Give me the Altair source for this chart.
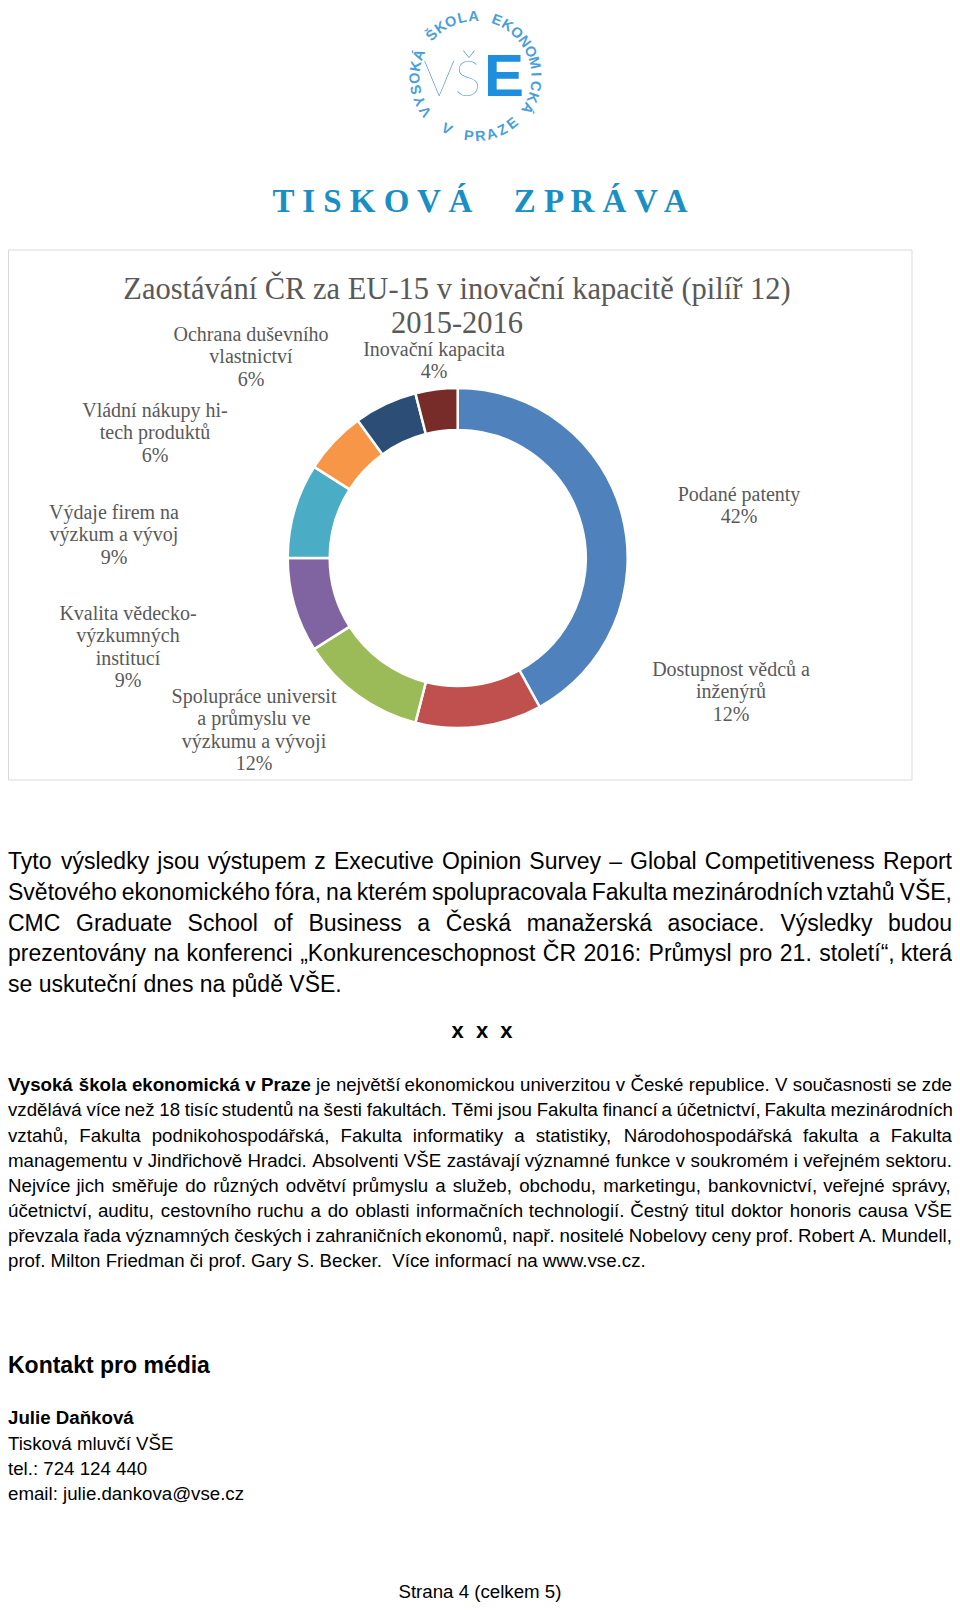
import math
import altair as alt
import pandas as pd

# ---------------- page geometry (chart px = page px - 8) ----------------
W, H = 944, 1594
OFF = 8
NB = "\u00A0"


def px(v):
    return v - OFF


def py(v):
    return v - OFF


# ---------------- chart data ----------------
categories = [
    "Podané patenty",
    "Dostupnost vědců a inženýrů",
    "Spolupráce universit a průmyslu ve výzkumu a vývoji",
    "Kvalita vědecko-výzkumných institucí",
    "Výdaje firem na výzkum a vývoj",
    "Vládní nákupy hi-tech produktů",
    "Ochrana duševního vlastnictví",
    "Inovační kapacita",
]
shares = [42, 12, 12, 9, 9, 6, 6, 4]
colors = ["#4F81BD", "#C0504D", "#9BBB59", "#8064A2", "#4BACC6", "#F79646", "#2C4D75", "#772C2A"]
name_lines = [
    ["Podané patenty"],
    ["Dostupnost vědců a", "inženýrů"],
    ["Spolupráce universit", "a průmyslu ve", "výzkumu a vývoji"],
    ["Kvalita vědecko-", "výzkumných", "institucí"],
    ["Výdaje firem na", "výzkum a vývoj"],
    ["Vládní nákupy hi-", "tech produktů"],
    ["Ochrana duševního", "vlastnictví"],
    ["Inovační kapacita"],
]
chart_title = ["Zaostávání ČR za EU-15 v inovační kapacitě (pilíř 12)", "2015-2016"]

# layout of the chart (page coordinates)
label_anchor = [(739, 495), (731, 670), (254, 697), (128, 614), (114, 513), (155, 411), (251, 335), (434, 350)]
LABEL_STEP = 22.4
DONUT_C = (457.7, 558)
R_OUT, R_IN = 170, 128

# ---------------- page texts ----------------
header = "T I S K O V Á" + NB * 5 + "Z P R Á V A"
ring_top = "VYSOKÁ ŠKOLA EKONOMICKÁ"
ring_bottom = "V PRAZE"

para1 = [
    [("Tyto výsledky jsou výstupem z Executive Opinion Survey – Global Competitiveness Report", False)],
    [("Světového ekonomického fóra, na kterém spolupracovala Fakulta mezinárodních vztahů VŠE,", False)],
    [("CMC Graduate School of Business a Česká manažerská asociace. Výsledky budou", False)],
    [("prezentovány na konferenci „Konkurenceschopnost ČR 2016: Průmysl pro 21. století“, která", False)],
    [("se uskuteční dnes na půdě VŠE.", False)],
]
para2 = [
    [("Vysoká škola ekonomická v Praze", True),
     ("je největší ekonomickou univerzitou v České republice. V současnosti se zde", False)],
    [("vzdělává více než 18 tisíc studentů na šesti fakultách. Těmi jsou Fakulta financí a účetnictví, Fakulta mezinárodních", False)],
    [("vztahů, Fakulta podnikohospodářská, Fakulta informatiky a statistiky, Národohospodářská fakulta a Fakulta", False)],
    [("managementu v Jindřichově Hradci. Absolventi VŠE zastávají významné funkce v soukromém i veřejném sektoru.", False)],
    [("Nejvíce jich směřuje do různých odvětví průmyslu a služeb, obchodu, marketingu, bankovnictví, veřejné správy,", False)],
    [("účetnictví, auditu, cestovního ruchu a do oblasti informačních technologií. Čestný titul doktor honoris causa VŠE", False)],
    [("převzala řada významných českých i zahraničních ekonomů, např. nositelé Nobelovy ceny prof. Robert A. Mundell,", False)],
    [("prof. Milton Friedman či prof. Gary S. Becker." + NB + " Více informací na www.vse.cz.", False)],
]
separator = "x" + NB + " x" + NB + " x"
contact_head = "Kontakt pro média"
contact_name = "Julie Daňková"
contact_lines = ["Tisková mluvčí VŠE", "tel.: 724 124 440", "email: julie.dankova@vse.cz"]
footer = "Strana 4 (celkem 5)"

# ---------------- Arial / Liberation Sans advance widths (1/1000 em) ----------------
UP = "ABCDEFGHIJKLMNOPQRSTUVWXYZ"
LO = "abcdefghijklmnopqrstuvwxyz"
REG = dict(zip(UP, [667, 667, 722, 722, 667, 611, 778, 722, 278, 500, 667, 556, 833, 722, 778, 667, 778, 722, 667, 611, 722, 667, 944, 667, 667, 611]))
REG.update(zip(LO, [556, 556, 500, 556, 556, 278, 556, 556, 222, 222, 500, 222, 833, 556, 556, 556, 556, 333, 500, 278, 556, 500, 722, 500, 500, 500]))
BOLD = dict(zip(UP, [722, 722, 722, 722, 667, 611, 778, 722, 278, 556, 722, 611, 833, 722, 778, 667, 778, 722, 667, 611, 722, 667, 944, 667, 667, 611]))
BOLD.update(zip(LO, [556, 611, 556, 611, 556, 333, 611, 611, 278, 278, 556, 278, 889, 611, 611, 611, 611, 389, 556, 333, 611, 556, 778, 556, 556, 500]))
for tab in (REG, BOLD):
    for d in "0123456789":
        tab[d] = 556
    tab.update({" ": 278, NB: 278, ".": 278, ",": 278, ";": 278, "-": 333, "–": 556,
                "„": 333 if tab is REG else 500, "“": 333 if tab is REG else 500,
                "(": 333, ")": 333, "@": 1015, "%": 889, "/": 278})
    tab[":"] = 278 if tab is REG else 333
STRIP = str.maketrans("áčďéěíňóřšťúůýžÁČĎÉĚÍŇÓŘŠŤÚŮÝŽ", "acdeeinorstuuyzACDEEINORSTUUYZ")


def text_w(s, size, bold=False):
    tab = BOLD if bold else REG
    return sum(tab.get(ch, 556) for ch in s.translate(STRIP)) * size / 1000.0


TEXT_X0, TEXT_X1 = 0, 944


def justify(lines, size, base_y, step):
    rows = []
    for i, segs in enumerate(lines):
        y = py(base_y + i * step)
        if i == len(lines) - 1:
            rows.append(dict(x=TEXT_X0, y=y, t="".join(s for s, _ in segs), fs=size, bold=False))
            continue
        words = [(w, b) for s, b in segs for w in s.split(" ") if w]
        widths = [text_w(w, size, b) for w, b in words]
        gap = (TEXT_X1 - TEXT_X0 - sum(widths)) / (len(words) - 1)
        x = TEXT_X0
        for (w, b), wd in zip(words, widths):
            rows.append(dict(x=x, y=y, t=w, fs=size, bold=b))
            x += wd + gap
    return rows


body = justify(para1, 23, 869.2, 30.7) + justify(para2, 18.7, 1091.3, 25.1)
body.append(dict(x=px(482) - text_w(separator, 22, True) / 2, y=py(1038), t=separator, fs=22, bold=True))
body.append(dict(x=TEXT_X0, y=py(1372.7), t=contact_head, fs=23, bold=True))
body.append(dict(x=TEXT_X0, y=py(1424), t=contact_name, fs=18.7, bold=True))
for j, s in enumerate(contact_lines):
    body.append(dict(x=TEXT_X0, y=py(1450 + 25 * j), t=s, fs=18.7, bold=False))
body.append(dict(x=px(480) - text_w(footer, 18.7) / 2, y=py(1598), t=footer, fs=18.7, bold=False))

body_df = pd.DataFrame(body)
reg_df = body_df[~body_df["bold"]].drop(columns="bold")
bold_df = body_df[body_df["bold"]].drop(columns="bold")


def text_layer(df, font, weight="normal", align="left", baseline="alphabetic", color="#000000", angle=False):
    enc = dict(
        x=alt.X("x:Q", scale=None, axis=None),
        y=alt.Y("y:Q", scale=None, axis=None),
        text=alt.Text("t:N"),
        size=alt.Size("fs:Q", scale=None, legend=None),
    )
    if angle:
        enc["angle"] = alt.Angle("rot:Q", scale=None)
    return alt.Chart(df).mark_text(font=font, fontWeight=weight, align=align,
                                   baseline=baseline, color=color).encode(**enc)


# ---------------- logo ----------------
LOGO_C = (475.5, 77)
LOGO_R = 60
ring = []
a0, a1 = -124.5, 121.0
for k, ch in enumerate(ring_top):
    a = a0 + (a1 - a0) * k / (len(ring_top) - 1)
    if ch != " ":
        ring.append(dict(x=px(LOGO_C[0] + LOGO_R * math.sin(math.radians(a))),
                         y=py(LOGO_C[1] - LOGO_R * math.cos(math.radians(a))),
                         t=ch, fs=14.5, rot=a % 360))
b0, b1 = 209.0, 141.5
for k, ch in enumerate(ring_bottom):
    a = b0 + (b1 - b0) * k / (len(ring_bottom) - 1)
    if ch != " ":
        ring.append(dict(x=px(LOGO_C[0] + LOGO_R * math.sin(math.radians(a))),
                         y=py(LOGO_C[1] - LOGO_R * math.cos(math.radians(a))),
                         t=ch, fs=14.5, rot=(a - 180) % 360))
ring_df = pd.DataFrame(ring)
vs_df = pd.DataFrame([dict(x=px(481), y=py(96), t="VŠ", fs=50)])
e_df = pd.DataFrame([dict(x=px(484), y=py(96), t="E", fs=60)])
header_df = pd.DataFrame([dict(x=px(480), y=py(212), t=header, fs=33)])

# ---------------- chart frame, donut, labels, title ----------------
frame_df = pd.DataFrame([dict(x=0.5, x2=px(912), y=py(250), y2=py(780))])
frame = alt.Chart(frame_df).mark_rect(fill="white", stroke="#D9D9D9", strokeWidth=1).encode(
    x=alt.X("x:Q", scale=None, axis=None), x2="x2:Q",
    y=alt.Y("y:Q", scale=None, axis=None), y2="y2:Q")

donut_df = pd.DataFrame({"cat": categories, "share": shares, "idx": list(range(len(shares)))})
donut = alt.Chart(donut_df).mark_arc(innerRadius=R_IN, outerRadius=R_OUT, stroke="white", strokeWidth=2.5).encode(
    theta=alt.Theta("share:Q", stack=True),
    color=alt.Color("cat:N", scale=alt.Scale(domain=categories, range=colors), legend=None),
    order=alt.Order("idx:Q"),
    x=alt.value(px(DONUT_C[0])),
    y=alt.value(py(DONUT_C[1])),
)

lab_rows = []
for k in range(len(categories)):
    lines = name_lines[k] + [f"{shares[k]}%"]
    ax, ay = label_anchor[k]
    for j, s in enumerate(lines):
        lab_rows.append(dict(x=px(ax), y=py(ay + j * LABEL_STEP), t=s, fs=20))
labels_df = pd.DataFrame(lab_rows)
title_df = pd.DataFrame([dict(x=px(457), y=py(298.5), t=chart_title[0], fs=30.5),
                         dict(x=px(457), y=py(332.5), t=chart_title[1], fs=30.5)])

layers = [
    frame,
    donut,
    text_layer(labels_df, "Liberation Serif", align="center", baseline="middle", color="#595959"),
    text_layer(title_df, "Liberation Serif", align="center", color="#595959"),
    text_layer(ring_df, "Liberation Sans", weight="bold", align="center", baseline="middle", color="#4A9FD8", angle=True),
    text_layer(vs_df, "Lato", weight=200, align="right", color="#3A8FC6"),
    text_layer(e_df, "Liberation Sans", weight="bold", align="left", color="#1E8FDE"),
    text_layer(header_df, "Liberation Serif", weight="bold", align="center", color="#1A8FC4"),
    text_layer(reg_df, "Liberation Sans"),
    text_layer(bold_df, "Liberation Sans", weight="bold"),
]

chart = alt.layer(*layers).properties(
    width=W, height=H, padding=0,
    autosize=alt.AutoSizeParams(type="none"),
    background="white",
).configure_view(strokeWidth=0)

chart.save("out.html", embed_options={"renderer": "svg", "actions": False})
